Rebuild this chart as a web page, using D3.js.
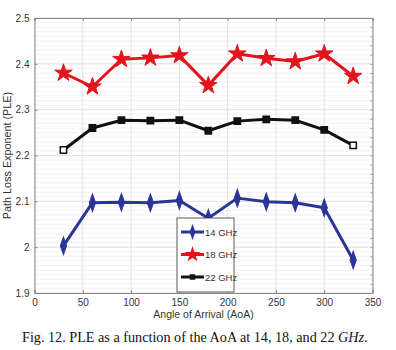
<!DOCTYPE html>
<html>
<script src="https://d3js.org/d3.v7.min.js"></script>
<style>
    body { margin: 0; background: #fff; }
    .tick text { font-family: "Liberation Sans", Arial, sans-serif; font-size: 10px; fill: #333; }
    .domain { stroke: #888; }
</style>
<body></body>
<script>
    const width = 396, height = 350;
    const angles = [30, 60, 90, 120, 150, 180, 210, 240, 270, 300, 330];
    const ple14 = [2.003, 2.097, 2.098, 2.097, 2.102, 2.063, 2.107, 2.099, 2.097, 2.086, 1.972];
    const ple18 = [2.380, 2.350, 2.410, 2.413, 2.418, 2.353, 2.422, 2.412, 2.405, 2.422, 2.373];
    const ple22 = [2.212, 2.260, 2.277, 2.276, 2.277, 2.254, 2.275, 2.279, 2.277, 2.256, 2.222];
    const xTicks = [0, 50, 100, 150, 200, 250, 300, 350];
    const yTicks = [1.9, 2, 2.1, 2.2, 2.3, 2.4, 2.5];

    const series = [
        {name: "14 GHz", values: ple14, color: "#2b3595", marker: "diamond"},
        {name: "18 GHz", values: ple18, color: "#e3141b", marker: "star"},
        {name: "22 GHz", values: ple22, color: "#111", marker: "square"}
    ];

    const svg = d3.select("body").append("svg").attr("width", width).attr("height", height);
    const x = d3.scaleLinear().domain([0, 350]).range([34.5, 372.5]);
    const y = d3.scaleLinear().domain([1.9, 2.5]).range([293, 18]);

    // grid
    const grid = svg.append("g");
    grid.selectAll(".minor")
        .data(d3.range(190, 251).map(d => d / 100))
        .join("line")
        .attr("x1", x(0)).attr("x2", x(350))
        .attr("y1", d => y(d)).attr("y2", d => y(d))
        .attr("stroke", "#efefef").attr("stroke-width", 0.8);
    grid.selectAll(".vx")
        .data(xTicks)
        .join("line")
        .attr("x1", d => x(d)).attr("x2", d => x(d))
        .attr("y1", y(1.9)).attr("y2", y(2.5))
        .attr("stroke", "#dcdcdc").attr("stroke-width", 0.8);
    grid.selectAll(".hy")
        .data(yTicks)
        .join("line")
        .attr("x1", x(0)).attr("x2", x(350))
        .attr("y1", d => y(d)).attr("y2", d => y(d))
        .attr("stroke", "#dcdcdc").attr("stroke-width", 0.8);

    // axes
    svg.append("g").attr("transform", `translate(0,${y(1.9)})`)
        .call(d3.axisBottom(x).tickValues(xTicks).tickSize(-3).tickPadding(6))
        .call(g => g.selectAll(".tick line").attr("stroke", "#888"));
    svg.append("g").attr("transform", `translate(0,${y(2.5)})`)
        .call(d3.axisTop(x).tickValues(xTicks).tickSize(-3).tickFormat(""))
        .call(g => g.selectAll(".tick line").attr("stroke", "#888"));
    svg.append("g").attr("transform", `translate(${x(0)},0)`)
        .call(d3.axisLeft(y).tickValues(yTicks).tickSize(-3).tickPadding(5).tickFormat(d3.format("~g")))
        .call(g => g.selectAll(".tick line").attr("stroke", "#888"));
    svg.append("g").attr("transform", `translate(${x(350)},0)`)
        .call(d3.axisRight(y).tickValues(d3.range(190, 251, 2).map(d => d / 100)).tickSize(-2).tickFormat(""))
        .call(g => g.selectAll(".tick line").attr("stroke", "#999"));

    // axis labels
    svg.append("text")
        .attr("x", (x(0) + x(350)) / 2).attr("y", 318)
        .attr("text-anchor", "middle")
        .attr("font-family", "Liberation Sans, Arial, sans-serif").attr("font-size", 10.5).attr("fill", "#333")
        .text("Angle of Arrival (AoA)");
    svg.append("text")
        .attr("transform", `translate(11,${(y(1.9) + y(2.5)) / 2}) rotate(-90)`)
        .attr("text-anchor", "middle")
        .attr("font-family", "Liberation Sans, Arial, sans-serif").attr("font-size", 10.8).attr("fill", "#333")
        .text("Path Loss Exponent (PLE)");

    const symbols = {
        diamond: d3.symbol().type(d3.symbolDiamond).size(55),
        star: d3.symbol().type(d3.symbolStar).size(95),
        square: d3.symbol().type(d3.symbolSquare).size(40)
    };
    const legendSymbols = {
        diamond: d3.symbol().type(d3.symbolDiamond).size(45),
        star: d3.symbol().type(d3.symbolStar).size(80),
        square: d3.symbol().type(d3.symbolSquare).size(30)
    };

    const line = d3.line().x((d, i) => x(angles[i])).y(d => y(d));
    const plot = svg.append("g");
    series.forEach(s => {
        plot.append("path")
            .datum(s.values)
            .attr("fill", "none")
            .attr("stroke", s.color)
            .attr("stroke-width", 3)
            .attr("stroke-linejoin", "round")
            .attr("d", line);
        plot.selectAll(null)
            .data(s.values)
            .join("path")
            .attr("transform", (d, i) => {
                const sy = s.marker === "diamond" ? " scale(0.8,1.3)" : "";
                return `translate(${x(angles[i])},${y(d)})${sy}`;
            })
            .attr("d", symbols[s.marker])
            .attr("fill", (d, i) => s.marker === "square" && (i === 0 || i === s.values.length - 1) ? "#fff" : s.color)
            .attr("stroke", s.color)
            .attr("stroke-width", s.marker === "square" ? 1.5 : 1);
    });

    // legend
    const leg = svg.append("g").attr("transform", "translate(177,218)");
    leg.append("rect").attr("width", 57).attr("height", 74)
        .attr("fill", "#fff").attr("stroke", "#333").attr("stroke-width", 0.8);
    series.forEach((s, i) => {
        const g = leg.append("g").attr("transform", `translate(0,${14 + i * 22.5})`);
        g.append("line").attr("x1", 4).attr("x2", 27)
            .attr("stroke", s.color).attr("stroke-width", 3);
        g.append("path")
            .attr("transform", `translate(15.5,0)${s.marker === "diamond" ? " scale(0.8,1.3)" : ""}`)
            .attr("d", legendSymbols[s.marker]).attr("fill", s.color);
        g.append("text").attr("x", 28).attr("y", 3.5)
            .attr("font-family", "Liberation Sans, Arial, sans-serif").attr("font-size", 9.5).attr("fill", "#333")
            .text(s.name);
    });

    // caption
    const cap = svg.append("text")
        .attr("x", 22).attr("y", 342)
        .attr("font-family", "Liberation Serif, Times New Roman, serif").attr("font-size", 14.2).attr("fill", "#111");
    cap.append("tspan").text("Fig. 12. PLE as a function of the AoA at 14, 18, and 22 ");
    cap.append("tspan").attr("font-style", "italic").text("GHz");
    cap.append("tspan").text(".");
</script>
</html>
